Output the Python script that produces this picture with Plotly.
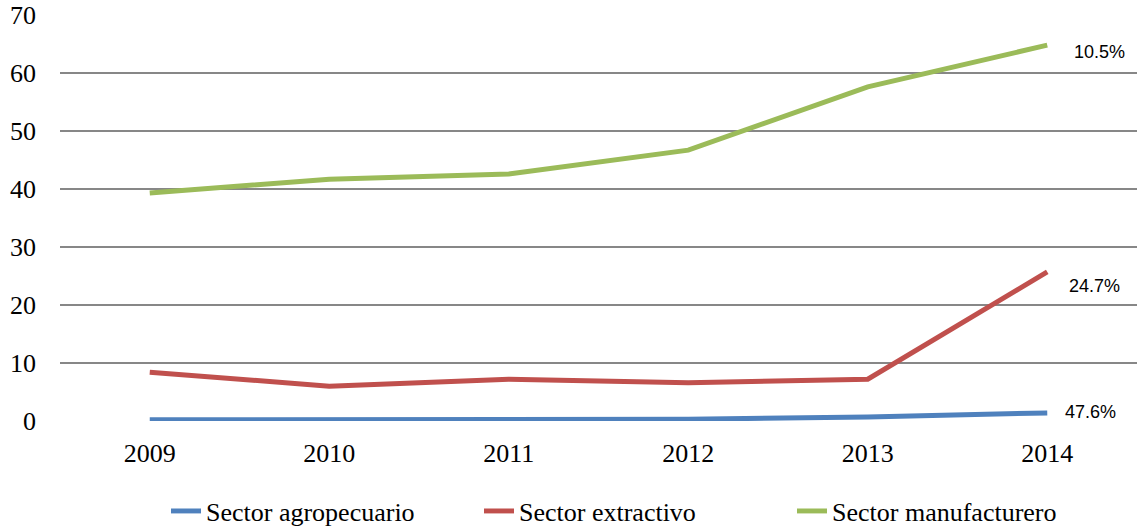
import plotly.graph_objects as go

years = ["2009", "2010", "2011", "2012", "2013", "2014"]
agro = [0.2, 0.2, 0.3, 0.3, 0.7, 1.4]
extractivo = [8.4, 6.0, 7.2, 6.6, 7.2, 25.7]
manufact = [39.3, 41.7, 42.6, 46.7, 57.6, 64.8]
series_names = ["Sector agropecuario", "Sector extractivo", "Sector manufacturero"]
growth_labels = ["47.6%", "24.7%", "10.5%"]
colors = ["#4F81BD", "#C0504D", "#9BBB59"]
label_shift = [(16, 1), (20, -14), (25, -7)]

SERIF = "Liberation Serif"
SANS = "Liberation Sans"

fig = go.Figure()
for name, vals, col in zip(series_names, [agro, extractivo, manufact], colors):
    fig.add_trace(go.Scatter(x=years, y=vals, mode="lines", name=name,
                             line=dict(color=col, width=5)))

for vals, lab, (dx, dy) in zip([agro, extractivo, manufact], growth_labels, label_shift):
    fig.add_annotation(x=5, y=vals[-1], text=lab, showarrow=False,
                       xref="x", yref="y", xanchor="left", yanchor="middle",
                       xshift=dx, yshift=dy,
                       font=dict(family=SANS, size=18, color="#000000"))

fig.update_layout(
    width=1137, height=529,
    margin=dict(l=60, r=0, t=15, b=108, autoexpand=False),
    plot_bgcolor="white", paper_bgcolor="white",
    font=dict(family=SERIF, size=26, color="#000000"),
    legend=dict(orientation="h", x=0.146, xanchor="left", xref="container",
                y=0.034, yanchor="middle", yref="container",
                font=dict(family=SERIF, size=26, color="#000000"),
                entrywidth=268, entrywidthmode="pixels"),
    showlegend=True,
)
fig.update_xaxes(type="category", range=[-0.5, 5.5], showgrid=False, zeroline=False,
                 showline=False, ticks="", ticklabelstandoff=14,
                 tickfont=dict(family=SERIF, size=26, color="#000000"))
fig.update_yaxes(range=[0, 70], dtick=10, showgrid=True, gridcolor="#878787", gridwidth=1.6,
                 zeroline=False, showline=False, ticks="", ticklabelstandoff=23,
                 ticklabeloverflow="allow",
                 tickfont=dict(family=SERIF, size=26, color="#000000"))

fig.write_html("out.html", config={"displayModeBar": False},
               post_script="document.body.style.margin='0';document.body.style.overflow='hidden';")
